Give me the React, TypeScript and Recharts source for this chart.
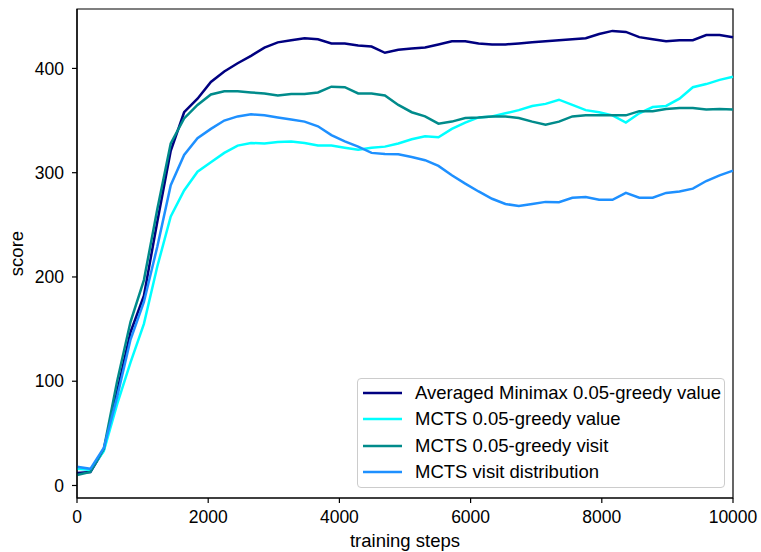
import React from 'react';
import { LineChart, Line, XAxis, YAxis, Legend, ReferenceArea } from 'recharts';

const steps = [0, 204, 408, 612, 816, 1020, 1224, 1429, 1633, 1837, 2041, 2245, 2449, 2653, 2857, 3061, 3265, 3469, 3673, 3878, 4082, 4286, 4490, 4694, 4898, 5102, 5306, 5510, 5714, 5918, 6122, 6327, 6531, 6735, 6939, 7143, 7347, 7551, 7755, 7959, 8163, 8367, 8571, 8776, 8980, 9184, 9388, 9592, 9796, 10000];

const minimaxValue = [12, 13, 34, 90, 147, 182, 253, 321, 358, 371, 387, 397, 405, 412, 420, 425, 427, 429, 428, 424, 424, 422, 421, 415, 418, 419, 420, 423, 426, 426, 424, 423, 423, 424, 425, 426, 427, 428, 429, 433, 436, 435, 430, 428, 426, 427, 427, 432, 432, 430];

const mctsValue = [16, 15, 33, 78, 118, 155, 210, 258, 283, 301, 310, 319, 326, 328.5, 328, 329.5, 330, 328.5, 326, 326, 324, 322, 324, 325, 328, 332, 335, 334, 342, 348, 353, 354, 357, 360, 364, 366, 370, 365, 360, 358, 355, 348, 357, 363, 364, 371, 382, 385, 389, 392];

const mctsVisit = [10, 13, 35, 100, 157, 197, 265, 328, 352, 365, 375, 378, 378, 377, 376, 374, 375.5, 375.5, 377, 382.5, 382, 376, 376, 374, 365, 358, 354, 347, 349, 352.5, 353, 354, 354, 352.5, 349, 346, 349, 354, 355, 355, 355, 355, 359, 359, 361, 362, 362, 360.5, 361, 360.5];

const mctsDistribution = [18, 16, 36, 85, 140, 176, 229, 288, 317, 333, 342, 350, 354, 356, 355, 353, 351, 349, 344.5, 336, 330, 325, 319, 318, 317.6, 315, 312, 306.5, 297.5, 289.5, 282, 275, 270, 268, 270, 272, 271.6, 276, 276.7, 274, 274, 280.6, 276, 276, 280.6, 282, 284.7, 292, 297.5, 302];

const xTicks = [0, 2000, 4000, 6000, 8000, 10000];
const yTicks = [0, 100, 200, 300, 400];

const seriesNames = [
  'Averaged Minimax 0.05-greedy value',
  'MCTS 0.05-greedy value',
  'MCTS 0.05-greedy visit',
  'MCTS visit distribution',
];
const seriesKeys = ['minimax', 'mctsValue', 'mctsVisit', 'mctsDist'];
const seriesColors = ['#000080', '#00ffff', '#008b8b', '#1e90ff'];

const data = steps.map((s, i) => ({
  step: s,
  minimax: minimaxValue[i],
  mctsValue: mctsValue[i],
  mctsVisit: mctsVisit[i],
  mctsDist: mctsDistribution[i],
}));

const FONT = '"Liberation Sans", Arial, Helvetica, sans-serif';
const FS = 17.5;
const FL = 18.5;

const LegendBox = () => (
  <div
    style={{
      width: 368,
      height: 110,
      boxSizing: 'border-box',
      border: '1px solid #cccccc',
      borderRadius: 4,
      background: 'rgba(255,255,255,0.8)',
      paddingTop: 0.5,
      fontFamily: FONT,
      fontSize: FL,
      color: '#000',
    }}
  >
    {seriesNames.map((n, i) => (
      <div key={n} style={{ height: 26.5, display: 'flex', alignItems: 'center' }}>
        <svg width={57} height={10} style={{ flex: 'none' }}>
          <line x1={5} x2={44} y1={5} y2={5} stroke={seriesColors[i]} strokeWidth={2.5} />
        </svg>
        <span style={{ whiteSpace: 'nowrap', lineHeight: '20px' }}>{n}</span>
      </div>
    ))}
  </div>
);

const YLabel = () => {
  const cx = 23;
  const cy = 253.5;
  return (
    <text
      x={cx}
      y={cy}
      transform={`rotate(-90, ${cx}, ${cy})`}
      textAnchor="middle"
      fontFamily={FONT}
      fontSize={FL}
      fill="#000"
    >
      score
    </text>
  );
};

export default function App() {
  return (
    <div style={{ position: 'absolute', left: 0, top: 0 }}>
      <LineChart
        width={761}
        height={552}
        data={data}
        margin={{ top: 9, right: 28, bottom: 0, left: 17 }}
      >
        <XAxis
          dataKey="step"
          type="number"
          domain={[0, 10000]}
          ticks={xTicks}
          height={54}
          tickSize={5}
          tickMargin={8}
          stroke="#000"
          strokeWidth={1.2}
          tick={{ fill: '#000', fontFamily: FONT, fontSize: FS }}
          tickLine={{ stroke: '#000' }}
          label={{
            value: 'training steps',
            position: 'insideBottom',
            offset: 5,
            fill: '#000',
            fontFamily: FONT,
            fontSize: FL,
          }}
        />
        <YAxis
          type="number"
          domain={[-12, 457]}
          ticks={yTicks}
          width={60}
          tickSize={5}
          tickMargin={8}
          stroke="#000"
          strokeWidth={1.2}
          tick={{ fill: '#000', fontFamily: FONT, fontSize: FS }}
          tickLine={{ stroke: '#000' }}
          label={<YLabel />}
        />
        <ReferenceArea
          x1={0}
          x2={10000}
          y1={-12}
          y2={457}
          fill="none"
          stroke="#000"
          strokeWidth={1.2}
          ifOverflow="visible"
        />
        {seriesKeys.map((k, i) => (
          <Line
            key={k}
            dataKey={k}
            name={seriesNames[i]}
            stroke={seriesColors[i]}
            strokeWidth={2.5}
            dot={false}
            activeDot={false}
            isAnimationActive={false}
            type="linear"
          />
        ))}
        <Legend
          layout="vertical"
          align="center"
          verticalAlign="middle"
          content={<LegendBox />}
          wrapperStyle={{ position: 'absolute', left: 357, top: 378, width: 368, height: 110 }}
        />
      </LineChart>
    </div>
  );
}
